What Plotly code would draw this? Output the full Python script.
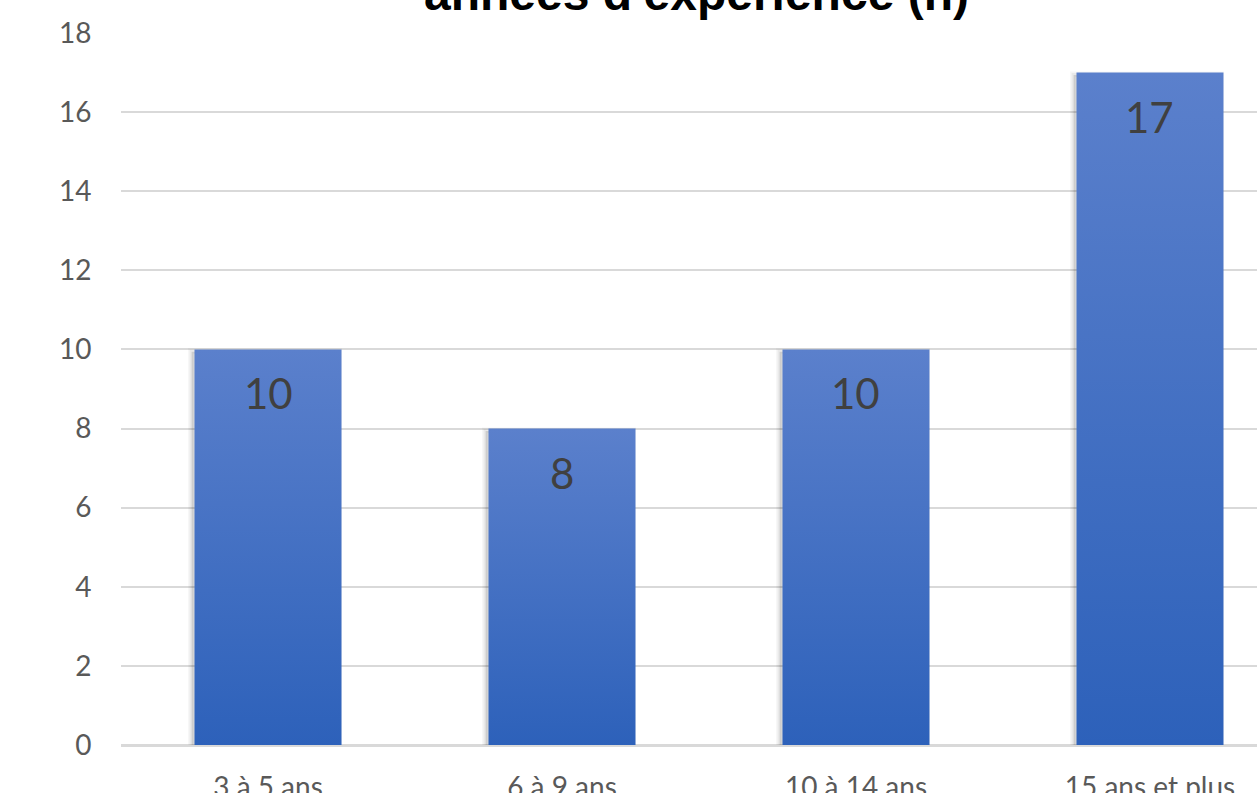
import plotly.graph_objects as go

# Data
categories = ["3 à 5 ans", "6 à 9 ans", "10 à 14 ans", "15 ans et plus"]
counts = [10, 8, 10, 17]
y_ticks = [0, 2, 4, 6, 8, 10, 12, 14, 16, 18]
title_text = "années d'expérience (n)"

# Style
BAR_WIDTH = 0.5
TOP_COLOR = "#5B80CC"
BOTTOM_COLOR = "#2D61BA"
GRID_COLOR = "#D9D9D9"
TICK_COLOR = "#595959"
LABEL_COLOR = "#404040"

fig = go.Figure()

half = BAR_WIDTH / 2
for i, v in enumerate(counts):
    xs = [i - half, i - half, i + half, i + half, i - half]
    ys = [0, v, v, 0, 0]
    # soft drop shadow, offset down-left
    for w, a in [(7, 0.035), (4, 0.05)]:
        fig.add_trace(go.Scatter(
            x=[x - 0.01 for x in xs], y=[y - 0.06 for y in ys],
            mode="lines", line=dict(color=f"rgba(0,0,0,{a})", width=w),
            fill="toself", fillcolor="rgba(0,0,0,0.06)",
            hoverinfo="skip", showlegend=False,
        ))
    # bar body with vertical gradient (dark at the base, lighter at the top)
    fig.add_trace(go.Scatter(
        x=xs, y=ys, mode="lines", line=dict(width=0),
        fill="toself",
        fillgradient=dict(type="vertical",
                          colorscale=[[0, BOTTOM_COLOR], [1, TOP_COLOR]]),
        hoverinfo="skip", showlegend=False,
    ))

# value labels just inside the top of each bar
for i, v in enumerate(counts):
    fig.add_annotation(
        x=i, y=v, xref="x", yref="y", text=str(v), showarrow=False,
        yanchor="middle", yshift=-44,
        font=dict(family="Lato", size=42, color=LABEL_COLOR),
    )

# title (partly above the visible area)
fig.add_annotation(
    x=0.5062, y=1, xref="paper", yref="paper", text=f"<b>{title_text}</b>",
    showarrow=False, xanchor="center", yanchor="bottom", yshift=11,
    font=dict(family="Liberation Sans", size=48, color="#000000"),
)

fig.update_layout(
    width=1257, height=793,
    margin=dict(l=121, r=0, t=33, b=48, autoexpand=False),
    paper_bgcolor="white", plot_bgcolor="white",
    showlegend=False,
    xaxis=dict(
        range=[-0.5, 3.364], tickvals=list(range(len(categories))),
        ticktext=categories, showgrid=False, zeroline=False,
        showline=False, ticks="outside", ticklen=0, tickcolor="white",
        ticklabelstandoff=17, automargin=False,
        tickfont=dict(family="Lato", size=28, color=TICK_COLOR),
        fixedrange=True,
    ),
    yaxis=dict(
        range=[0, 18], tickvals=y_ticks, showgrid=True,
        gridcolor=GRID_COLOR, gridwidth=1.5,
        zeroline=True, zerolinecolor=GRID_COLOR, zerolinewidth=2.5,
        showline=False, ticks="outside", ticklen=0, tickcolor="white",
        ticklabelstandoff=23, automargin=False,
        tickfont=dict(family="Lato", size=28, color=TICK_COLOR),
        fixedrange=True,
    ),
)

fig.write_html("out.html")
